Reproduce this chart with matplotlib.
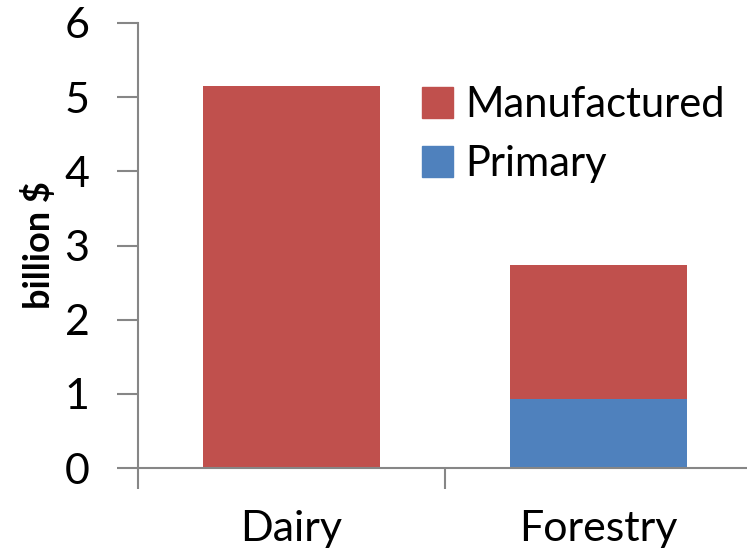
import matplotlib
matplotlib.use("Agg")
import matplotlib.pyplot as plt
from matplotlib.patches import Patch

categories = ["Dairy", "Forestry"]
primary = [0.0, 0.93]
manufactured = [5.15, 1.81]
yticks = [0, 1, 2, 3, 4, 5, 6]

plt.rcParams['font.family'] = ['Lato', 'DejaVu Sans']

fig = plt.figure(figsize=(7.47, 5.56), dpi=100)
ax = fig.add_axes([138/747, (556-468)/556, 614/747, (468-23)/556])

red = '#C0504D'
blue = '#4F81BD'
x = list(range(len(categories)))
w = 0.575
ax.bar(x, primary, width=w, color=blue, label='Primary')
ax.bar(x, manufactured, width=w, bottom=primary, color=red, label='Manufactured')

ax.set_xlim(-0.5, 1.5)
ax.set_ylim(0, 6)
ax.set_yticks(yticks)
ax.set_yticklabels([str(v) for v in yticks], fontsize=31)
ax.set_xticks(x)
ax.set_xticklabels(categories, fontsize=31)
ax.tick_params(axis='x', which='major', length=0, pad=30)
ax.set_xticks([-0.5, 0.5], minor=True)
ax.tick_params(axis='x', which='minor', length=15, width=1.5, color='#868686', direction='out')
ax.tick_params(axis='y', length=15, width=1.5, color='#868686', direction='out', pad=20)

for s in ['top', 'right']:
    ax.spines[s].set_visible(False)
for s in ['left', 'bottom']:
    ax.spines[s].set_color('#868686')
    ax.spines[s].set_linewidth(1.5)

ax.set_ylabel('billion $', fontsize=26, fontweight='bold', labelpad=6)

handles = [Patch(color=red, label='Manufactured'), Patch(color=blue, label='Primary')]
ax.legend(handles=handles, loc='upper left', bbox_to_anchor=(0.4625, 0.858), frameon=False,
          fontsize=30, handlelength=0.75, handleheight=0.75, handletextpad=0.3, labelspacing=0.5,
          borderaxespad=0, borderpad=0)

fig.savefig('out.png', dpi=100)
